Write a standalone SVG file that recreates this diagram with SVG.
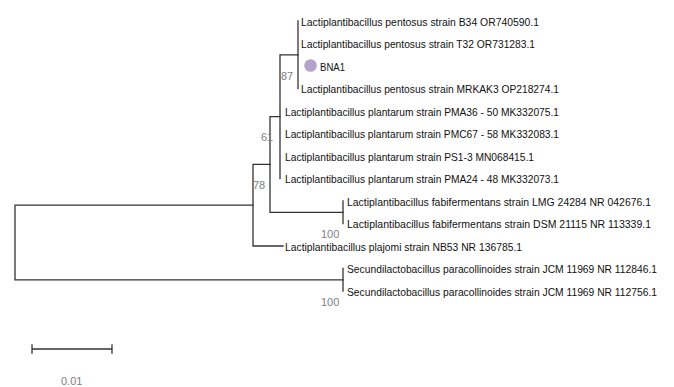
<svg xmlns="http://www.w3.org/2000/svg" width="674" height="387" viewBox="0 0 674 387">
<style>
.br{stroke:#333;stroke-width:1.3;fill:none;stroke-linecap:square}
.lb{font-family:"Liberation Sans",Arial,sans-serif;font-size:10.5px;fill:#111}
.bs{font-family:"Liberation Sans",Arial,sans-serif;font-size:11px;fill:#808080}
</style>
<rect width="674" height="387" fill="#fff"/>
<g id="connectors" class="br">
<path d="M15,205.2V279.8M15,205.2H253M15,279.8H343"/>
<path d="M253,164.4V246M253,164.4H270M253,246H283"/>
<path d="M270,116.6V212.3M270,116.6H280M270,212.3H343"/>
<path d="M280,54.8V178.5M280,54.8H298"/>
<path d="M298,21V88.5"/>
<path d="M343,201V223.5"/>
<path d="M343,268.5V291"/>
<path d="M32,349H112M32,345V353M112,345V353"/>
</g>
<g id="leaf-B34"><text class="lb" x="301" y="25.5" textLength="238" lengthAdjust="spacingAndGlyphs">Lactiplantibacillus pentosus strain B34 OR740590.1</text></g>
<g id="leaf-T32"><text class="lb" x="301" y="48" textLength="234" lengthAdjust="spacingAndGlyphs">Lactiplantibacillus pentosus strain T32 OR731283.1</text></g>
<g id="leaf-BNA1"><circle cx="310.5" cy="65.5" r="6.3" fill="#b3a3cc"/><text class="lb" x="320" y="70.5" textLength="25" lengthAdjust="spacingAndGlyphs">BNA1</text></g>
<g id="leaf-MRKAK3"><text class="lb" x="301" y="93" textLength="258" lengthAdjust="spacingAndGlyphs">Lactiplantibacillus pentosus strain MRKAK3 OP218274.1</text></g>
<g id="leaf-PMA36"><text class="lb" x="285" y="115.5" textLength="274" lengthAdjust="spacingAndGlyphs">Lactiplantibacillus plantarum strain PMA36 - 50 MK332075.1</text></g>
<g id="leaf-PMC67"><text class="lb" x="285" y="138" textLength="274" lengthAdjust="spacingAndGlyphs">Lactiplantibacillus plantarum strain PMC67 - 58 MK332083.1</text></g>
<g id="leaf-PS1-3"><text class="lb" x="285" y="160.5" textLength="249" lengthAdjust="spacingAndGlyphs">Lactiplantibacillus plantarum strain PS1-3 MN068415.1</text></g>
<g id="leaf-PMA24"><text class="lb" x="285" y="183" textLength="274" lengthAdjust="spacingAndGlyphs">Lactiplantibacillus plantarum strain PMA24 - 48 MK332073.1</text></g>
<g id="leaf-LMG"><text class="lb" x="347" y="205.5" textLength="304" lengthAdjust="spacingAndGlyphs">Lactiplantibacillus fabifermentans strain LMG 24284 NR 042676.1</text></g>
<g id="leaf-DSM"><text class="lb" x="347" y="228" textLength="304" lengthAdjust="spacingAndGlyphs">Lactiplantibacillus fabifermentans strain DSM 21115 NR 113339.1</text></g>
<g id="leaf-plajomi"><text class="lb" x="285" y="250.5" textLength="237" lengthAdjust="spacingAndGlyphs">Lactiplantibacillus plajomi strain NB53 NR 136785.1</text></g>
<g id="leaf-JCM1"><text class="lb" x="347" y="273" textLength="310" lengthAdjust="spacingAndGlyphs">Secundilactobacillus paracollinoides strain JCM 11969 NR 112846.1</text></g>
<g id="leaf-JCM2"><text class="lb" x="347" y="295.5" textLength="310" lengthAdjust="spacingAndGlyphs">Secundilactobacillus paracollinoides strain JCM 11969 NR 112756.1</text></g>
<g id="bootstrap">
<text class="bs" x="281" y="80">87</text>
<text class="bs" x="261" y="141">61</text>
<text class="bs" x="253" y="189">78</text>
<text class="bs" x="321" y="238">100</text>
<text class="bs" x="321" y="306">100</text>
</g>
<g id="scale"><text class="bs" x="61" y="385">0.01</text></g>
</svg>
